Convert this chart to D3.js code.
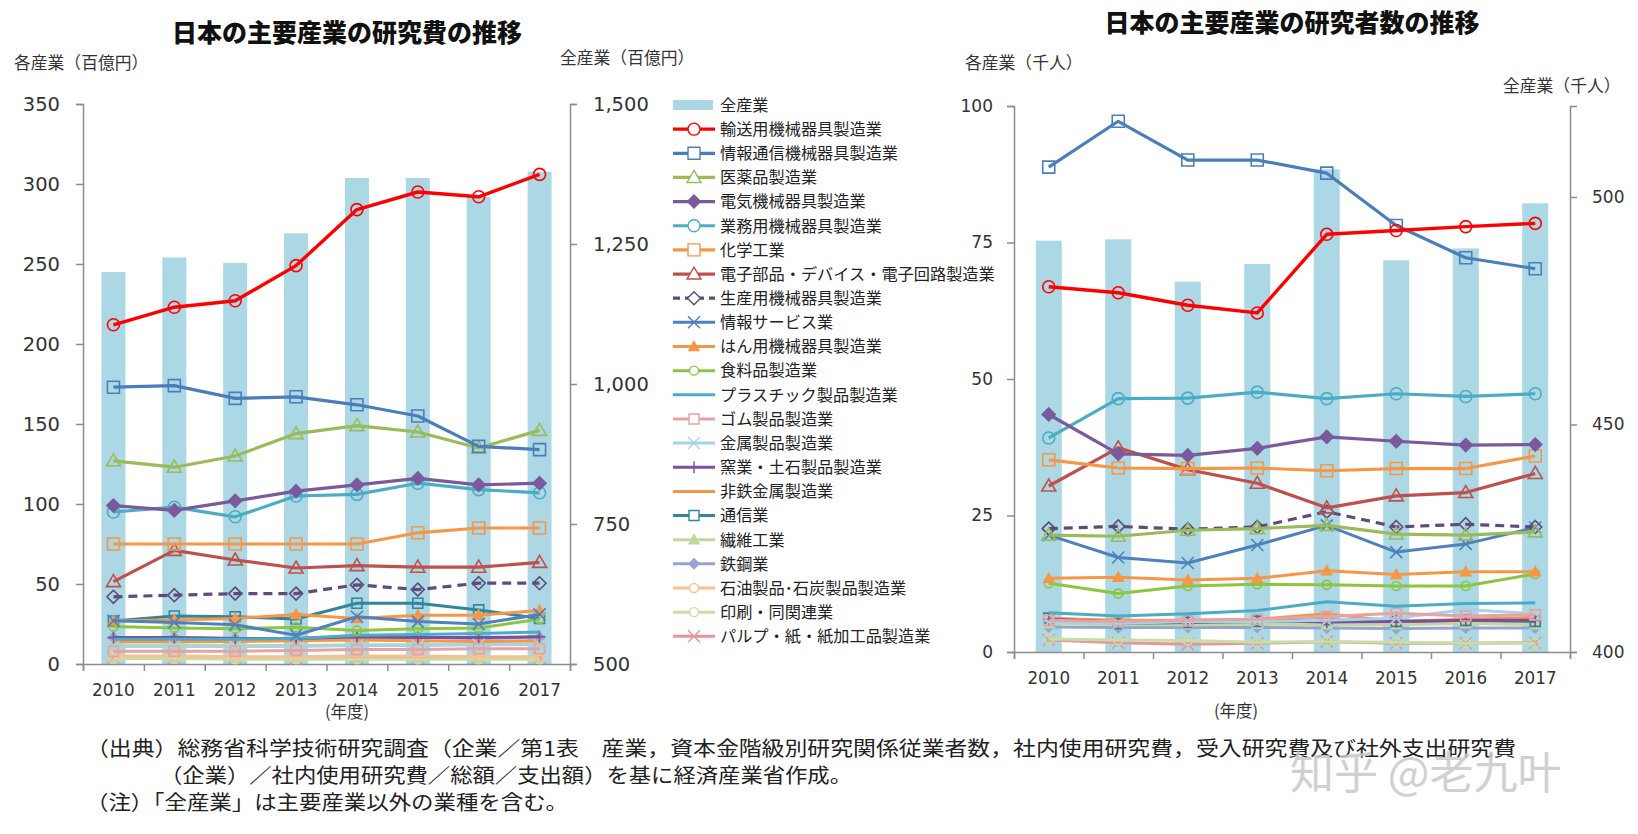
<!DOCTYPE html>
<html><head><meta charset="utf-8">
<script src="https://cdn.jsdelivr.net/npm/d3@7"></script>
<style>
body{margin:0;background:#fff;}
text{font-family:"Noto Sans CJK JP","Noto Sans",sans-serif;}
.num{font-family:"DejaVu Sans",Verdana,sans-serif;}
</style></head><body>
<svg id="c" width="1638" height="834"></svg>
<script>
// ---------- DATA ----------
const years = [2010, 2011, 2012, 2013, 2014, 2015, 2016, 2017];
const seriesNames = ["輸送用機械器具製造業","情報通信機械器具製造業","医薬品製造業","電気機械器具製造業","業務用機械器具製造業","化学工業","電子部品・デバイス・電子回路製造業","生産用機械器具製造業","情報サービス業","はん用機械器具製造業","食料品製造業","プラスチック製品製造業","ゴム製品製造業","金属製品製造業","窯業・土石製品製造業","非鉄金属製造業","通信業","繊維工業","鉄鋼業","石油製品･石炭製品製造業","印刷・同関連業","パルプ・紙・紙加工品製造業"];
const totalName = "全産業";

// Research expenditure (百億円)
const costTotal       = [1200, 1226, 1216, 1269, 1368, 1368, 1334, 1379];
const costTransport   = [212, 223, 227, 249, 284, 295, 292, 306];
const costICT         = [173, 174, 166, 167, 162, 155, 136, 134];
const costPharma      = [127, 123, 130, 144, 149, 145, 135, 146];
const costElectric    = [99, 96, 102, 108, 112, 116, 112, 113];
const costBusiness    = [95, 98, 92, 105, 106, 113, 109, 107];
const costChemical    = [75, 75, 75, 75, 75, 82, 85, 85];
const costElectronic  = [51.5, 71, 65, 60, 61.5, 60.5, 60.5, 63.5];
const costProduction  = [42, 43, 44, 44, 49.5, 46.5, 50.5, 50.5];
const costInfoService = [27, 26, 24.5, 18, 29.5, 26.5, 25, 31];
const costGeneral     = [27, 27.5, 28.5, 31, 28.5, 30.5, 30.5, 33.5];
const costFood        = [23.5, 22.5, 22, 23, 21, 22, 22.5, 28];
const costPlastic     = [15.5, 15.5, 15.5, 16, 18, 18.5, 19, 20];
const costRubber      = [8, 8, 8, 8.5, 9, 9, 9.5, 9.5];
const costMetal       = [11, 11, 11, 11, 11.5, 11.5, 12, 12];
const costCeramic     = [16.5, 16.5, 16, 16, 17, 16.5, 16.5, 17];
const costNonFerrous  = [14, 14, 14, 14.5, 15, 14.5, 14, 14.5];
const costTelecom     = [26.9, 30, 29.5, 28.1, 38, 38, 33.8, 28.5];
const costTextile     = [12, 12, 11.5, 11.5, 12, 12, 12.5, 12.5];
const costSteel       = [16.5, 16.5, 16, 15.5, 16.5, 16.5, 16, 16.5];
const costPetroleum   = [5, 5, 4.5, 4.5, 5, 5, 4.5, 4.5];
const costPrinting    = [3.5, 3.5, 3, 3, 3, 3, 3, 3];
const costPulp        = [4, 4, 4, 3.5, 4, 4, 4, 4];

// Researchers (千人)
const resTotal       = [490.4, 490.7, 481.4, 485.3, 506.1, 486.1, 488.7, 498.6];
const resTransport   = [66.9, 65.8, 63.5, 62.1, 76.5, 77.2, 77.9, 78.5];
const resICT         = [88.8, 97.2, 90.1, 90.1, 87.7, 78.1, 72.2, 70.2];
const resPharma      = [21.4, 21.2, 22.3, 22.6, 23.2, 21.6, 21.4, 22.0];
const resElectric    = [43.5, 36.3, 36.0, 37.3, 39.4, 38.6, 37.9, 38.0];
const resBusiness    = [39.2, 46.4, 46.5, 47.6, 46.4, 47.3, 46.8, 47.3];
const resChemical    = [35.2, 33.7, 33.6, 33.7, 33.2, 33.6, 33.6, 35.9];
const resElectronic  = [30.4, 37.4, 33.4, 30.9, 26.4, 28.6, 29.2, 32.7];
const resProduction  = [22.6, 23.0, 22.5, 22.9, 25.7, 22.9, 23.4, 22.9];
const resInfoService = [21.4, 17.3, 16.3, 19.6, 23.2, 18.3, 19.8, 22.8];
const resGeneral     = [13.5, 13.7, 13.2, 13.5, 14.9, 14.2, 14.7, 14.7];
const resFood        = [12.6, 10.7, 12.1, 12.4, 12.3, 12.1, 12.1, 14.3];
const resPlastic     = [7.2, 6.6, 7.0, 7.6, 9.2, 8.4, 8.9, 9.0];
const resRubber      = [5.8, 5.6, 5.8, 6.0, 6.5, 7.1, 6.6, 6.8];
const resMetal       = [5.5, 5.2, 5.6, 5.6, 5.8, 6.2, 7.8, 7.0];
const resCeramic     = [6.0, 5.5, 5.5, 5.8, 5.5, 5.6, 5.8, 5.8];
const resNonFerrous  = [6.2, 5.8, 5.8, 6.0, 7.0, 5.6, 6.0, 6.3];
const resTelecom     = [6.2, 5.2, 5.4, 5.6, 5.9, 5.6, 5.8, 5.6];
const resTextile     = [5.2, 5.0, 5.0, 5.1, 5.0, 5.0, 5.2, 5.0];
const resSteel       = [4.6, 4.5, 4.5, 4.5, 4.4, 4.3, 4.4, 4.4];
const resPetroleum   = [5.6, 5.5, 5.3, 5.4, 5.7, 5.4, 5.3, 5.2];
const resPrinting    = [2.4, 2.2, 2.1, 1.8, 1.9, 1.8, 1.6, 1.6];
const resPulp        = [2.2, 1.7, 1.4, 1.6, 1.9, 1.6, 1.6, 1.7];

const costLeftTicks = [0, 50, 100, 150, 200, 250, 300, 350];
const costRightTicks = [500, 750, 1000, 1250, 1500];
const resLeftTicks = [0, 25, 50, 75, 100];
const resRightTicks = [400, 450, 500];

// ---------- STYLES ----------
const styles = [
  {c:"#ff0000", m:"circle", w:3.4},
  {c:"#4a7ebb", m:"square", w:3.2},
  {c:"#9bbb59", m:"triangle", w:3.2},
  {c:"#7a5a9c", m:"diamondF", w:3.2},
  {c:"#4bacc6", m:"circle", w:3.2},
  {c:"#f79646", m:"square", w:3.2},
  {c:"#c0504d", m:"triangle", w:3.2},
  {c:"#604a7b", m:"diamond", w:3.2, dash:"9,6"},
  {c:"#4f81bd", m:"x", w:3},
  {c:"#f79646", m:"triangleS", w:3},
  {c:"#8cc63f", m:"circleS", w:3},
  {c:"#4bacc6", m:null, w:3},
  {c:"#e6a3a3", m:"squareS", w:3},
  {c:"#a6d3e8", m:"x", w:3},
  {c:"#7b4fa0", m:"plus", w:3},
  {c:"#f79646", m:null, w:3},
  {c:"#31859c", m:"squareS", w:3},
  {c:"#c3d69b", m:"triangleS", w:3},
  {c:"#95a3d3", m:"diamondS", w:3},
  {c:"#fabf8f", m:"circleS", w:3},
  {c:"#c6e0a4", m:"circleS", w:3},
  {c:"#e8949b", m:"x", w:3}
];

function markerPath(t){
  const p = d3.path();
  switch(t){
    case "circle": p.arc(0,0,6,0,2*Math.PI); break;
    case "circleS": p.arc(0,0,4.5,0,2*Math.PI); break;
    case "square": p.rect(-6,-6,12,12); break;
    case "squareS": p.rect(-5,-5,10,10); break;
    case "triangle": p.moveTo(0,-7); p.lineTo(7,5); p.lineTo(-7,5); p.closePath(); break;
    case "triangleS": p.moveTo(0,-5); p.lineTo(5,4); p.lineTo(-5,4); p.closePath(); break;
    case "diamond": case "diamondF": p.moveTo(0,-6.5); p.lineTo(6.5,0); p.lineTo(0,6.5); p.lineTo(-6.5,0); p.closePath(); break;
    case "diamondS": p.moveTo(0,-5); p.lineTo(5,0); p.lineTo(0,5); p.lineTo(-5,0); p.closePath(); break;
    case "x": p.moveTo(-6,-6); p.lineTo(6,6); p.moveTo(6,-6); p.lineTo(-6,6); break;
    case "plus": p.moveTo(-6,0); p.lineTo(6,0); p.moveTo(0,-6); p.lineTo(0,6); break;
  }
  return p.toString();
}
function markerFill(s){ return (s.m==="diamondF"||s.m==="triangleS"||s.m==="diamondS") ? s.c : "none"; }

const svg = d3.select("#c");
svg.append("rect").attr("width",1638).attr("height",834).attr("fill","#fff");

const axisColor = "#8c8c8c";

function drawChart(cfg){
  const g = svg.append("g");
  const x = d3.scalePoint().domain(years).range([cfg.x0, cfg.x1]).padding(0.5);
  const xb = d3.scaleLinear().domain([0, years.length]).range([cfg.x0, cfg.x1]);
  const yL = d3.scaleLinear().domain(cfg.leftDomain).range([cfg.yB, cfg.yT]);
  const yR = d3.scaleLinear().domain(cfg.rightDomain).range([cfg.yB, cfg.yT]);
  const bw = cfg.bw;

  // bars
  g.append("g").selectAll("rect").data(cfg.totals).join("rect")
    .attr("x",(d,i)=>x(years[i])-bw/2).attr("width",bw)
    .attr("y",d=>yR(d)).attr("height",d=>cfg.yB-yR(d))
    .attr("fill","#abd8e4");

  // axes
  const la = g.append("g").attr("transform",`translate(${cfg.x0},0)`)
    .call(d3.axisLeft(yL).tickValues(cfg.leftTicks).tickSize(7).tickPadding(cfg.lPad));
  const ra = g.append("g").attr("transform",`translate(${cfg.x1},0)`)
    .call(d3.axisRight(yR).tickValues(cfg.rightTicks).tickSize(7).tickPadding(cfg.rPad).tickFormat(d3.format(",")));
  const ba = g.append("g").attr("transform",`translate(0,${cfg.yB})`)
    .call(d3.axisBottom(xb).tickValues(d3.range(years.length+1)).tickSize(7).tickFormat(""));
  [la,ra,ba].forEach(a=>{
    a.selectAll("path,line").attr("stroke",axisColor).attr("stroke-width",1.5);
    a.selectAll("text").attr("class","num").attr("fill","#333").attr("font-size",cfg.tickFs);
  });
  // year labels
  g.append("g").selectAll("text").data(years).join("text")
    .attr("class","num").attr("x",d=>x(d)).attr("y",cfg.yearY)
    .attr("text-anchor","middle").attr("font-size",16.8).attr("fill","#333").text(d=>d);
  g.append("text").attr("x",cfg.nendoX).attr("y",cfg.nendoY).attr("text-anchor","middle")
    .attr("font-size",16.5).attr("fill","#333").text("(年度)");

  // lines (draw in reverse so first series is on top)
  const line = d3.line().x((d,i)=>x(years[i])).y(d=>yL(d));
  const order = d3.range(cfg.series.length).reverse();
  order.forEach(k=>{
    const s = styles[k], data = cfg.series[k];
    const sg = g.append("g");
    sg.append("path").attr("d",line(data)).attr("fill","none").attr("stroke",s.c)
      .attr("stroke-width",s.w).attr("stroke-dasharray",s.dash||null).attr("stroke-linejoin","round");
    if(s.m){
      sg.selectAll("path.m").data(data).join("path").attr("class","m")
        .attr("transform",(d,i)=>`translate(${x(years[i])},${yL(d)})`)
        .attr("d",markerPath(s.m)).attr("fill",markerFill(s))
        .attr("stroke",s.c).attr("stroke-width",1.6);
    }
  });

  // titles
  g.append("text").attr("x",cfg.titleX).attr("y",cfg.titleY).attr("text-anchor","middle")
    .attr("font-size",25).attr("font-weight",900).attr("fill","#111").text(cfg.title);
  g.append("text").attr("x",cfg.lLabX).attr("y",cfg.lLabY).attr("font-size",16.8).attr("fill","#333").text(cfg.lLab);
  g.append("text").attr("x",cfg.rLabX).attr("y",cfg.rLabY).attr("font-size",16.8).attr("fill","#333").text(cfg.rLab);
}

drawChart({
  x0:83, x1:570, yT:104, yB:664, bw:24,
  leftDomain:[0,350], rightDomain:[500,1500],
  leftTicks:costLeftTicks, rightTicks:costRightTicks,
  lPad:16, rPad:16, tickFs:19.5,
  totals:costTotal,
  series:[costTransport,costICT,costPharma,costElectric,costBusiness,costChemical,costElectronic,costProduction,costInfoService,costGeneral,costFood,costPlastic,costRubber,costMetal,costCeramic,costNonFerrous,costTelecom,costTextile,costSteel,costPetroleum,costPrinting,costPulp],
  yearY:696, nendoX:347, nendoY:718,
  title:"日本の主要産業の研究費の推移", titleX:347, titleY:42,
  lLab:"各産業（百億円）", lLabX:14, lLabY:69,
  rLab:"全産業（百億円）", rLabX:560, rLabY:64
});
drawChart({
  x0:1014, x1:1570, yT:106, yB:652, bw:26,
  leftDomain:[0,100], rightDomain:[400,520],
  leftTicks:resLeftTicks, rightTicks:resRightTicks,
  lPad:14, rPad:15, tickFs:17,
  totals:resTotal,
  series:[resTransport,resICT,resPharma,resElectric,resBusiness,resChemical,resElectronic,resProduction,resInfoService,resGeneral,resFood,resPlastic,resRubber,resMetal,resCeramic,resNonFerrous,resTelecom,resTextile,resSteel,resPetroleum,resPrinting,resPulp],
  yearY:684, nendoX:1236, nendoY:717,
  title:"日本の主要産業の研究者数の推移", titleX:1292, titleY:32,
  lLab:"各産業（千人）", lLabX:965, lLabY:69,
  rLab:"全産業（千人）", rLabX:1503, rLabY:92
});

// legend
const lg = svg.append("g");
const ly0 = 105, ldy = 24.15;
lg.append("rect").attr("x",673).attr("y",ly0-5).attr("width",40).attr("height",10).attr("fill","#abd8e4");
lg.append("text").attr("x",720).attr("y",ly0+5.8).attr("font-size",16.2).attr("fill","#222").text(totalName);
seriesNames.forEach((n,k)=>{
  const s = styles[k], y = ly0 + ldy*(k+1);
  lg.append("line").attr("x1",673).attr("x2",715).attr("y1",y).attr("y2",y)
    .attr("stroke",s.c).attr("stroke-width",s.w).attr("stroke-dasharray",s.dash?"7,5":null);
  if(s.m){
    lg.append("path").attr("transform",`translate(694,${y})`).attr("d",markerPath(s.m))
      .attr("fill",markerFill(s)==="none"?"#fff":s.c).attr("stroke",s.c).attr("stroke-width",1.4);
  }
  lg.append("text").attr("x",720).attr("y",y+5.8).attr("font-size",16.2).attr("fill","#222").text(n);
});

// footnotes
const notes = [
  {t:"（出典）総務省科学技術研究調査（企業／第1表　産業，資本金階級別研究関係従業者数，社内使用研究費，受入研究費及び社外支出研究費", x:86, y:756, w:1430},
  {t:"（企業）／社内使用研究費／総額／支出額）を基に経済産業省作成。", x:160, y:783, w:692},
  {t:"（注）「全産業」は主要産業以外の業種を含む。", x:86, y:810, w:482}
];
notes.forEach(n=>{
  svg.append("text").attr("x",n.x).attr("y",n.y).attr("font-size",20).attr("fill","#222")
    .attr("textLength",n.w).attr("lengthAdjust","spacingAndGlyphs").text(n.t);
});
svg.append("text").attr("x",1290).attr("y",789).attr("font-size",44).attr("fill","#c8c8c8")
  .attr("opacity",0.85).text("知乎 @老九叶");
</script>
</body></html>
